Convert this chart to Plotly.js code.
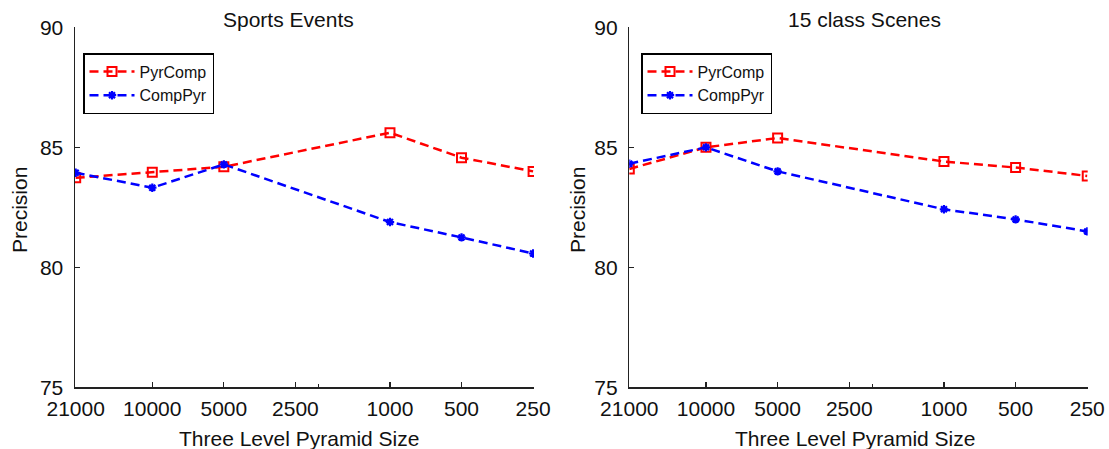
<!DOCTYPE html>
<html>
<head>
<meta charset="utf-8">
<script src="https://cdn.plot.ly/plotly-3.0.1.min.js"></script>
<style>html,body{margin:0;padding:0;background:#fff;}#chart{width:1109px;height:449px;}</style>
</head>
<body>
<div id="chart"></div>
<script>
const pyramidSizes = [21000, 10000, 5000, 1000, 500, 250];
const tickVals = [21000, 10000, 5000, 2500, 1000, 500, 250];
const tickText = ['21000', '10000', '5000', '2500', '1000', '500', '250'];
const seriesNames = ['PyrComp', 'CompPyr'];
const sportsPyrComp = [83.73, 83.96, 84.19, 85.61, 84.57, 84.00];
const sportsCompPyr = [83.94, 83.32, 84.29, 81.89, 81.25, 80.58];
const scenesPyrComp = [84.10, 85.00, 85.39, 84.41, 84.16, 83.81];
const scenesCompPyr = [84.32, 85.00, 84.00, 82.42, 82.00, 81.50];
const panelTitles = ['Sports Events', '15 class Scenes'];
const xTitle = 'Three Level Pyramid Size';
const yTitle = 'Precision';

const FONT = 'Liberation Sans, Arial, sans-serif';
const RED = '#ff0000', BLUE = '#0000ff';

function redTrace(y, xa, ya, lg) {
  return {x: pyramidSizes, y: y, xaxis: xa, yaxis: ya, legend: lg, name: seriesNames[0],
    mode: 'lines+markers', type: 'scatter',
    line: {color: RED, width: 2.5, dash: '9px,5px'},
    marker: {symbol: 'square-open', size: 9, color: RED, line: {color: RED, width: 2}}};
}
function blueTrace(y, xa, ya, lg) {
  return {x: pyramidSizes, y: y, xaxis: xa, yaxis: ya, legend: lg, name: seriesNames[1],
    mode: 'lines+markers', type: 'scatter',
    line: {color: BLUE, width: 2.5, dash: '9px,5px'},
    marker: {symbol: 'asterisk-open', size: 7, color: BLUE, line: {color: BLUE, width: 2.2}}};
}

const data = [
  redTrace(sportsPyrComp, 'x', 'y', 'legend'),
  blueTrace(sportsCompPyr, 'x', 'y', 'legend'),
  redTrace(scenesPyrComp, 'x2', 'y2', 'legend2'),
  blueTrace(scenesCompPyr, 'x2', 'y2', 'legend2')
];

function xAxis(domain, range, anchor) {
  return {domain: domain, type: 'log', range: range, anchor: anchor,
    tickmode: 'array', tickvals: tickVals, ticktext: tickText,
    ticks: 'inside', ticklen: 5, tickwidth: 1.2, tickcolor: '#222',
    showline: true, linecolor: '#222', linewidth: 1.5,
    showgrid: false, zeroline: false, ticklabelstandoff: 2,
    tickfont: {family: FONT, size: 21, color: '#111'},
    minor: {tickmode: 'array', tickvals: [2000], ticks: 'inside', ticklen: 3, tickcolor: '#222', showgrid: false}};
}
function yAxis(anchor) {
  return {domain: [0.137, 0.9392], range: [75, 90], anchor: anchor,
    tickmode: 'array', tickvals: [75, 80, 85, 90],
    ticks: 'inside', ticklen: 5, tickwidth: 1.2, tickcolor: '#222',
    showline: true, linecolor: '#222', linewidth: 1.5,
    showgrid: false, zeroline: false, ticklabelstandoff: 6,
    tickfont: {family: FONT, size: 21, color: '#111'}};
}

function legendBox(x) {
  return {x: x, y: 1 - 53/449, xanchor: 'left', yanchor: 'top',
    bgcolor: '#fff', bordercolor: '#000', borderwidth: 1.5, itemwidth: 45,
    font: {family: FONT, size: 16, color: '#111'}, tracegroupgap: 0};
}

const ann = (text, x, y, size, angle) => ({text: text, x: x, y: y, xref: 'paper', yref: 'paper',
  xanchor: 'center', yanchor: 'middle', showarrow: false, textangle: angle || 0,
  font: {family: FONT, size: size, color: '#111'}});

const layout = {
  width: 1109, height: 449,
  margin: {l: 0, r: 0, t: 0, b: 0},
  paper_bgcolor: '#fff', plot_bgcolor: '#fff',
  showlegend: true,
  xaxis: xAxis([75/1109, 534/1109], [4.3251, 2.3941], 'y'),
  yaxis: yAxis('x'),
  xaxis2: xAxis([629.3/1109, 1087.7/1109], [4.3222, 2.3960], 'y2'),
  yaxis2: yAxis('x2'),
  legend: legendBox(83/1109),
  legend2: legendBox(641/1109),
  annotations: [
    ann(panelTitles[0], 288/1109, 1 - 20/449, 21),
    ann(panelTitles[1], 864/1109, 1 - 20/449, 21),
    ann(xTitle, 299/1109, 1 - 438/449, 21),
    ann(xTitle, 855/1109, 1 - 438/449, 21),
    ann(yTitle, 19/1109, 1 - 210/449, 21, -90),
    ann(yTitle, 577/1109, 1 - 210/449, 21, -90)
  ]
};

Plotly.newPlot('chart', data, layout, {displayModeBar: false, staticPlot: true});
</script>
</body>
</html>
